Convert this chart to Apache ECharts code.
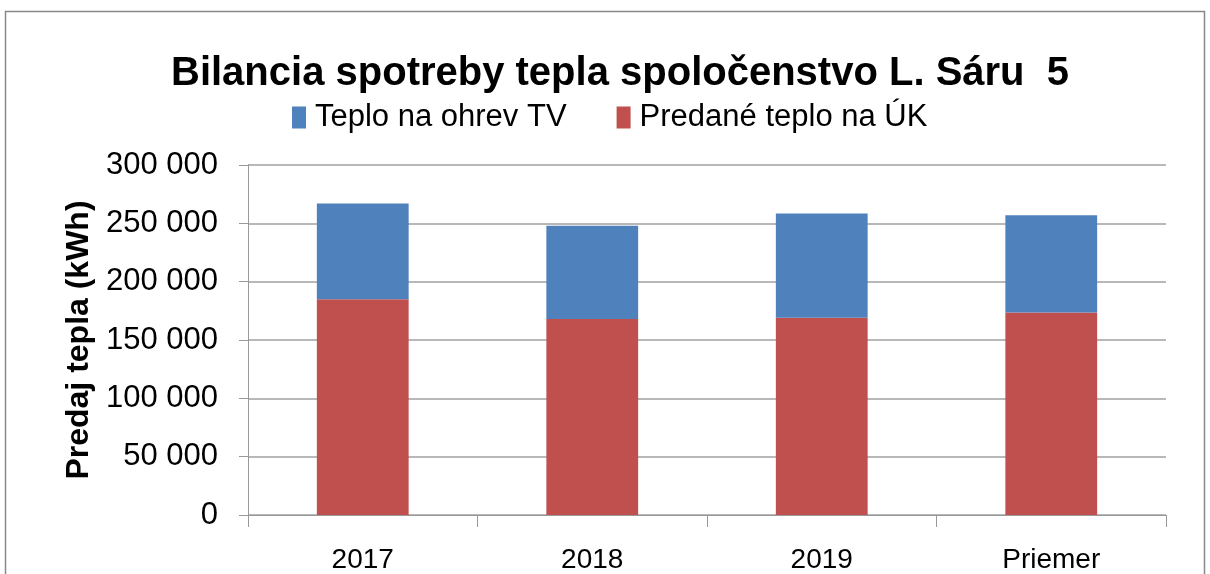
<!DOCTYPE html>
<html><head><meta charset="utf-8">
<script src="https://cdn.jsdelivr.net/npm/echarts@6/dist/echarts.min.js"></script>
<style>html,body{margin:0;padding:0;background:#fff}#c{width:1210px;height:574px}</style>
</head><body><div id="c"></div>
<script>
const categories = ['2017', '2018', '2019', 'Priemer'];
const teploUK = [185000, 168000, 169000, 173500];
const teploTV = [82000, 80000, 89500, 83500];
const seriesNames = ['Teplo na ohrev TV', 'Predané teplo na ÚK'];
const yTicks = [0, 50000, 100000, 150000, 200000, 250000, 300000];

const FONT = '"Liberation Sans", sans-serif';
const chart = echarts.init(document.getElementById('c'), null, {renderer: 'canvas'});
chart.setOption({
  animation: false,
  backgroundColor: '#fff',
  textStyle: {fontFamily: FONT},
  graphic: [{type: 'rect', shape: {x: 5.5, y: 11.5, width: 1199, height: 600}, style: {fill: 'none', stroke: '#888', lineWidth: 1.5}, silent: true}],
  title: {text: 'Bilancia spotreby tepla spoločenstvo L. Sáru  5', left: 166, top: 49,
    textStyle: {fontFamily: FONT, fontWeight: 'bold', fontSize: 40, color: '#000'}},
  legend: {data: seriesNames, top: 97, left: 287, itemWidth: 14, itemHeight: 22, itemGap: 50,
    icon: 'rect', textStyle: {fontFamily: FONT, fontSize: 31, color: '#000', padding: [0, 0, 0, 4]}},
  grid: {left: 248, right: 44, top: 165, bottom: 58, containLabel: false},
  xAxis: {type: 'category', data: categories,
    axisLine: {lineStyle: {color: '#999', width: 1}},
    axisTick: {show: true, length: 12, lineStyle: {color: '#999'}},
    axisLabel: {fontFamily: FONT, fontSize: 28, color: '#000', margin: 31}},
  yAxis: {type: 'value', min: 0, max: 300000, interval: 50000,
    name: 'Predaj tepla (kWh)', nameLocation: 'middle', nameGap: 152, nameRotate: 90,
    nameTextStyle: {fontFamily: FONT, fontWeight: 'bold', fontSize: 32, color: '#000'},
    axisLine: {show: true, lineStyle: {color: '#999', width: 1}},
    axisTick: {show: true, length: 9, lineStyle: {color: '#999'}},
    splitLine: {lineStyle: {color: '#a0a0a0', width: 1.5}},
    axisLabel: {fontFamily: FONT, fontSize: 31, color: '#000', margin: 30,
      formatter: v => yTicks.includes(v) ? String(v).replace(/\B(?=(\d{3})+(?!\d))/g, ' ') : ''}},
  series: [
    {name: seriesNames[1], type: 'bar', stack: 's', data: teploUK, barWidth: '40%',
      itemStyle: {color: '#C0504D'}},
    {name: seriesNames[0], type: 'bar', stack: 's', data: teploTV, barWidth: '40%',
      itemStyle: {color: '#4F81BD'}}
  ]
});
</script></body></html>
